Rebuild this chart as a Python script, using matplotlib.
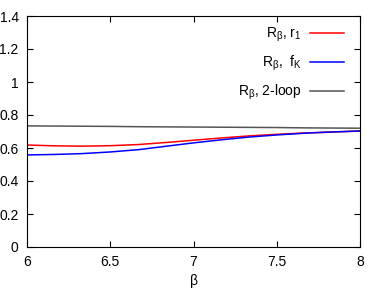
import numpy as np
import matplotlib.pyplot as plt

plt.rcParams['font.family'] = ['Liberation Sans', 'DejaVu Sans']
plt.rcParams['mathtext.fontset'] = 'custom'
plt.rcParams['mathtext.rm'] = 'Liberation Sans'
plt.rcParams['mathtext.it'] = 'Liberation Sans'

# values
beta = [6.0, 6.17, 6.33, 6.5, 6.67, 6.83, 7.0, 7.17, 7.33, 7.5, 7.67, 7.83, 8.0]
r_r1 = [0.618, 0.613, 0.611, 0.614, 0.621, 0.633, 0.647, 0.661, 0.673, 0.683, 0.691, 0.697, 0.703]
r_fk = [0.558, 0.561, 0.566, 0.576, 0.590, 0.610, 0.631, 0.650, 0.666, 0.679, 0.690, 0.697, 0.703]
r_2loop = [0.734, 0.733, 0.732, 0.731, 0.729, 0.728, 0.727, 0.726, 0.725, 0.724, 0.722, 0.721, 0.720]

fig = plt.figure(figsize=(3.84, 2.89), dpi=100)
ax = fig.add_axes([27/384, 1 - 247/289, 333/384, 231/289])

ax.plot(beta, r_r1, color='red', lw=1.1, label=r'R$_\beta$, r$_1$')
ax.plot(beta, r_fk, color='blue', lw=1.1, label=r'R$_\beta$,  f$_K$')
ax.plot(beta, r_2loop, color='#555555', lw=1.1, label=r'R$_\beta$, 2-loop')

ax.set_xlim(6, 8)
ax.set_ylim(0, 1.4)
ax.set_xticks([6, 6.5, 7, 7.5, 8])
ax.set_xticklabels(['6', '6.5', '7', '7.5', '8'])
ax.set_yticks([0, 0.2, 0.4, 0.6, 0.8, 1, 1.2, 1.4])
ax.set_yticklabels(['0', '0.2', '0.4', '0.6', '0.8', '1', '1.2', '1.4'])
ax.tick_params(direction='in', top=True, right=True, labelsize=10, length=4, pad=6)
ax.set_xlabel(r'$\beta$', fontsize=10, labelpad=2)

ax.legend(loc='upper right', frameon=False, markerfirst=False, fontsize=10,
          handlelength=2.4, handletextpad=0.6, labelspacing=0.7,
          borderaxespad=0.3, bbox_to_anchor=(0.98, 1.0))

fig.savefig('out.png', dpi=100)
